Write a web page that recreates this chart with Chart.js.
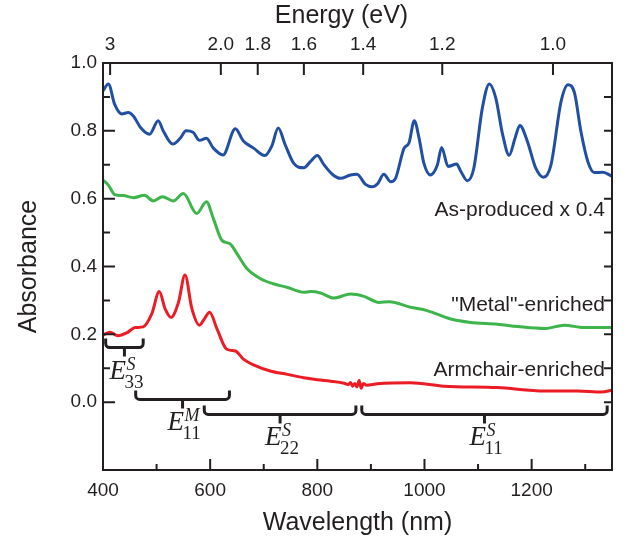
<!DOCTYPE html>
<html><head><meta charset="utf-8">
<script src="https://cdn.jsdelivr.net/npm/chart.js@4.4.0/dist/chart.umd.min.js"></script>
<style>html,body{margin:0;padding:0;background:#fff;} #wrap{width:627px;height:539px;}</style>
</head><body><div id="wrap"><canvas id="c" width="627" height="539"></canvas></div>
<script>
// ---- data ----
const wavelengthTicks = [400, 600, 800, 1000, 1200];
const wavelengthMinorTicks = [500, 700, 900, 1100, 1300];
const energyTicks = [3, 2.0, 1.8, 1.6, 1.4, 1.2, 1.0];
const energyTickLabels = ['3', '2.0', '1.8', '1.6', '1.4', '1.2', '1.0'];
const absorbanceTicks = [0, 0.2, 0.4, 0.6, 0.8, 1.0];
const absorbanceMinorTicks = [0.1, 0.3, 0.5, 0.7, 0.9];

const asProducedX = [400,410,422,435,447,457,470,487,503,513,530,544,555,568,580,593,606,624,647,662,681,702,715,727,740,756,775,787,800,812,828,843,862,874,890,902,913,924,937,946,962,971,981,990,999,1011,1024,1032,1044,1060,1068,1080,1092,1108,1121,1133,1146,1158,1169,1178,1192,1208,1222,1236,1255,1268,1280,1292,1305,1317,1333,1350];
const asProducedY = [0.918,0.938,0.877,0.850,0.854,0.843,0.810,0.790,0.830,0.798,0.761,0.778,0.800,0.796,0.772,0.778,0.749,0.729,0.806,0.770,0.749,0.727,0.755,0.808,0.759,0.704,0.691,0.709,0.727,0.701,0.672,0.660,0.670,0.672,0.642,0.635,0.645,0.672,0.650,0.660,0.749,0.764,0.830,0.778,0.704,0.670,0.699,0.751,0.695,0.702,0.680,0.653,0.689,0.867,0.938,0.897,0.788,0.728,0.778,0.816,0.769,0.689,0.663,0.699,0.887,0.936,0.912,0.798,0.709,0.677,0.678,0.666];

const metalX = [400,410,422,438,457,477,494,511,531,550,575,593,606,622,637,650,669,694,718,743,775,787,806,831,862,887,915,934,974,1005,1049,1086,1136,1174,1224,1261,1298,1350];
const metalY = [0.655,0.640,0.612,0.609,0.603,0.610,0.593,0.606,0.593,0.615,0.556,0.591,0.541,0.477,0.467,0.438,0.393,0.364,0.349,0.339,0.324,0.326,0.322,0.307,0.319,0.312,0.294,0.296,0.280,0.270,0.245,0.235,0.230,0.223,0.217,0.227,0.220,0.220];

const armchairX = [400,413,428,444,460,475,491,505,516,527,541,553,566,580,589,599,613,631,647,662,681,712,744,775,800,825,850,858,862,866,870,874,878,882,886,892,912,974,1036,1136,1224,1286,1330,1350];
const armchairY = [0.198,0.206,0.196,0.204,0.220,0.222,0.260,0.326,0.275,0.250,0.295,0.375,0.275,0.227,0.245,0.265,0.215,0.156,0.151,0.127,0.110,0.092,0.082,0.072,0.066,0.062,0.056,0.052,0.058,0.047,0.055,0.045,0.064,0.041,0.055,0.050,0.054,0.057,0.047,0.043,0.033,0.033,0.030,0.035];

const seriesNames = ['As-produced x 0.4', '"Metal"-enriched', 'Armchair-enriched'];
const transitionSup = ['S', 'M', 'S', 'S'];
const transitionSub = ['33', '11', '22', '11'];
const transitionStart = [405, 461, 589, 883];
const transitionEnd = [475, 636, 872, 1341];
const transitionLevel = [0.161, 0.008, -0.036, -0.036];

// ---- styling / layout (not data) ----
const HC = 1239.84;
const INK = '#231f20';
const colors = ['#2150a2', '#3db54a', '#ec1c24'];
const seriesLabelAnchor = [{x: 1337, y: 0.565}, {x: 1337, y: 0.285}, {x: 1337, y: 0.093}];

function pts(xs, ys) { return xs.map((x, i) => ({x: x, y: ys[i]})); }

const decor = {
  id: 'decor',
  afterDatasetsDraw(chart) {
    const ctx = chart.ctx, a = chart.chartArea;
    const xs = chart.scales.x, ys = chart.scales.y;
    ctx.save();
    ctx.strokeStyle = INK; ctx.fillStyle = INK;
    ctx.lineWidth = 2; ctx.lineCap = 'butt';
    // frame
    ctx.strokeRect(a.left, a.top, a.right - a.left, a.bottom - a.top);
    ctx.beginPath();
    absorbanceTicks.forEach(v => { const y = ys.getPixelForValue(v); ctx.moveTo(a.left, y); ctx.lineTo(a.left + 12, y); });
    absorbanceMinorTicks.forEach(v => { const y = ys.getPixelForValue(v); ctx.moveTo(a.left, y); ctx.lineTo(a.left + 7, y); });
    absorbanceTicks.concat(absorbanceMinorTicks).forEach(v => { const y = ys.getPixelForValue(v); ctx.moveTo(a.right, y); ctx.lineTo(a.right - 8, y); });
    wavelengthTicks.forEach(v => { const x = xs.getPixelForValue(v); ctx.moveTo(x, a.bottom); ctx.lineTo(x, a.bottom - 11); });
    wavelengthMinorTicks.forEach(v => { const x = xs.getPixelForValue(v); ctx.moveTo(x, a.bottom); ctx.lineTo(x, a.bottom - 6); });
    energyTicks.forEach(e => { const x = xs.getPixelForValue(HC / e); ctx.moveTo(x, a.top); ctx.lineTo(x, a.top + 12); });
    ctx.stroke();

    // top axis title
    ctx.font = '25px "Liberation Sans"';
    ctx.textAlign = 'center'; ctx.textBaseline = 'middle';
    ctx.fillText('Energy (eV)', (a.left + a.right) / 2 - 16, 16);

    // brackets
    ctx.lineWidth = 3; ctx.lineJoin = 'round'; ctx.lineCap = 'butt';
    for (let i = 0; i < transitionStart.length; i++) {
      const x1 = xs.getPixelForValue(transitionStart[i]);
      const x2 = xs.getPixelForValue(transitionEnd[i]);
      const y = ys.getPixelForValue(transitionLevel[i]);
      const xc = (x1 + x2) / 2, h = 9, r = 4;
      ctx.beginPath();
      ctx.moveTo(x1, y - h);
      ctx.arcTo(x1, y, x1 + r, y, r);
      ctx.lineTo(x2 - r, y);
      ctx.arcTo(x2, y, x2, y - h, r);
      ctx.lineTo(x2, y - h);
      ctx.moveTo(xc, y);
      ctx.lineTo(xc, y + 9);
      ctx.stroke();
      const ex = xc - 15, by = y + 31;
      ctx.textAlign = 'left'; ctx.textBaseline = 'alphabetic';
      ctx.font = 'italic 27px "Liberation Serif"';
      ctx.fillText('E', ex, by);
      ctx.font = 'italic 18px "Liberation Serif"';
      ctx.fillText(transitionSup[i], ex + 17, by - 9);
      ctx.font = '19px "Liberation Serif"';
      ctx.fillText(transitionSub[i], ex + 15, by + 9);
    }

    // series labels
    ctx.font = '21px "Liberation Sans"';
    ctx.textAlign = 'right'; ctx.textBaseline = 'middle';
    seriesNames.forEach((s, i) => {
      ctx.fillText(s, xs.getPixelForValue(seriesLabelAnchor[i].x), ys.getPixelForValue(seriesLabelAnchor[i].y));
    });
    ctx.restore();
  }
};

const tickFont = {family: '"Liberation Sans"', size: 19};
const titleFont = {family: '"Liberation Sans"', size: 25};

new Chart(document.getElementById('c'), {
  type: 'line',
  data: {
    datasets: [
      {label: seriesNames[0], data: pts(asProducedX, asProducedY), borderColor: colors[0]},
      {label: seriesNames[1], data: pts(metalX, metalY), borderColor: colors[1]},
      {label: seriesNames[2], data: pts(armchairX, armchairY), borderColor: colors[2]}
    ]
  },
  options: {
    responsive: false,
    animation: false,
    devicePixelRatio: 1,
    layout: {padding: {left: 0, right: 15, top: 0, bottom: 0}},
    elements: {
      point: {radius: 0, hoverRadius: 0},
      line: {borderWidth: 3, cubicInterpolationMode: 'monotone', fill: false, borderCapStyle: 'round', borderJoinStyle: 'round'}
    },
    plugins: {legend: {display: false}, tooltip: {enabled: false}},
    scales: {
      x: {
        type: 'linear', position: 'bottom', min: 400, max: 1350,
        grid: {display: false, drawTicks: false}, border: {display: false},
        afterBuildTicks: s => { s.ticks = wavelengthTicks.map(v => ({value: v})); },
        afterFit: s => { s.height = 69; },
        ticks: {font: tickFont, color: INK, padding: 9, maxRotation: 0, autoSkip: false, callback: v => String(v)},
        title: {display: true, text: 'Wavelength (nm)', font: titleFont, color: INK, padding: {top: 0, bottom: 1}}
      },
      x2: {
        type: 'linear', position: 'top', min: 400, max: 1350,
        grid: {display: false, drawTicks: false}, border: {display: false},
        afterBuildTicks: s => { s.ticks = energyTicks.map(e => ({value: HC / e})); },
        afterFit: s => { s.height = 63; },
        ticks: {font: tickFont, color: INK, padding: 7, maxRotation: 0, autoSkip: false,
          callback: (v, i) => energyTickLabels[i]},
        title: {display: false}
      },
      y: {
        type: 'linear', position: 'left', min: -0.2, max: 1.0,
        grid: {display: false, drawTicks: false}, border: {display: false},
        afterBuildTicks: s => { s.ticks = absorbanceTicks.map(v => ({value: v})); },
        afterFit: s => { s.width = 103; },
        ticks: {font: tickFont, color: INK, padding: 6, callback: v => Number(v).toFixed(1)},
        title: {display: true, text: 'Absorbance', font: titleFont, color: INK, padding: {top: 14, bottom: 0}}
      }
    }
  },
  plugins: [decor]
});
</script>
</body></html>
